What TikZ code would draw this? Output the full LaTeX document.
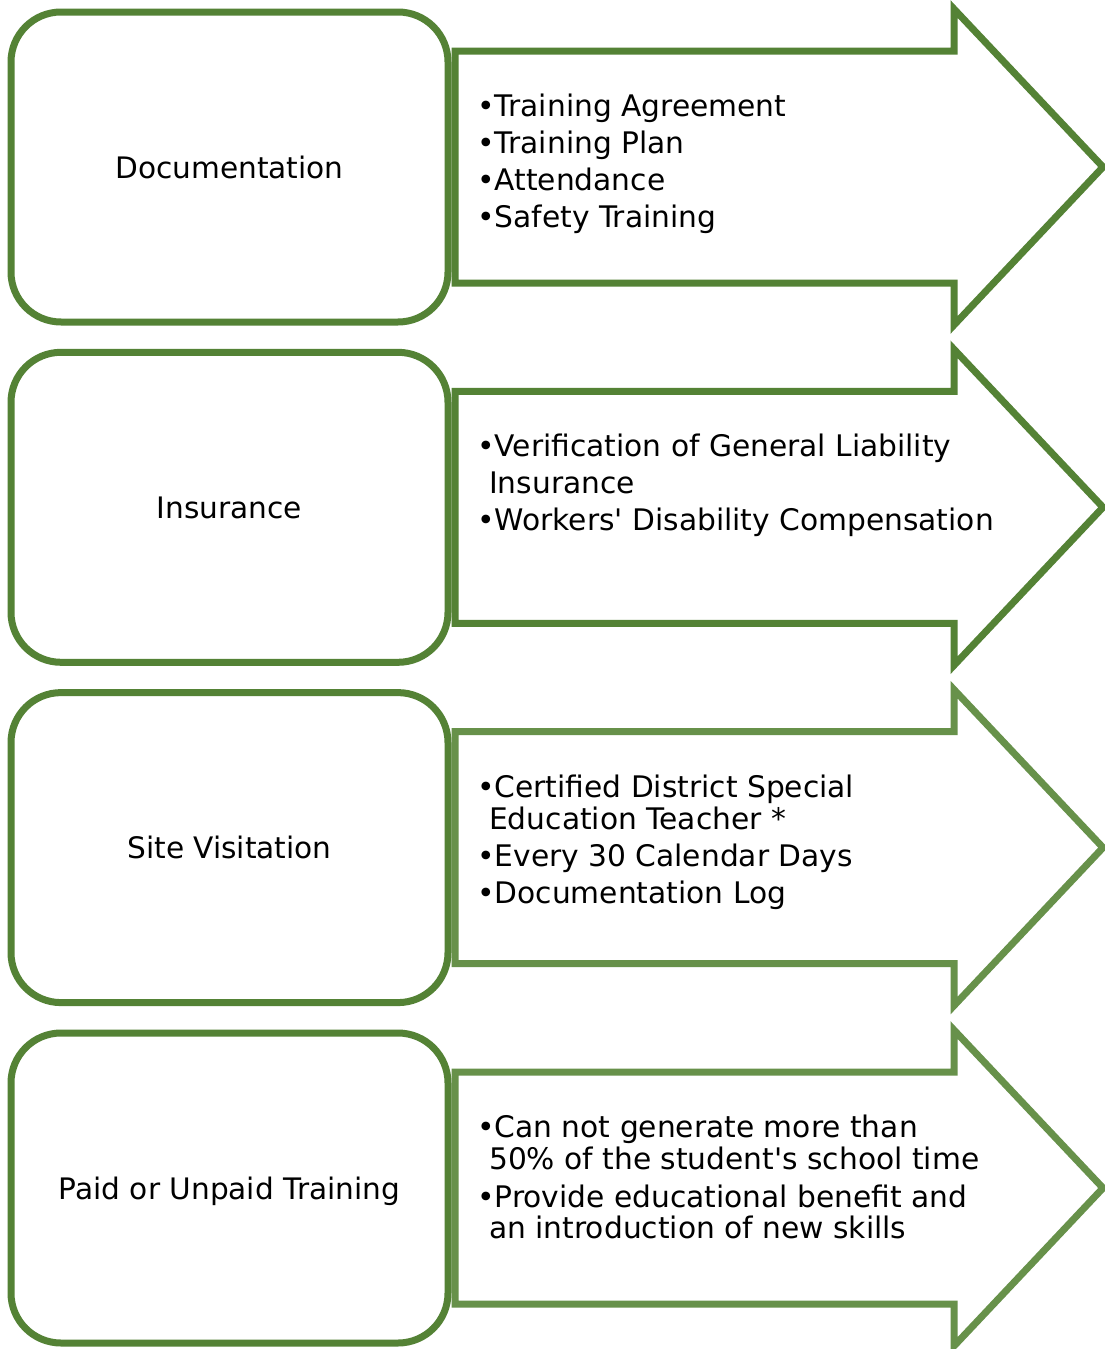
\documentclass[tikz,border=0pt]{standalone}
\usepackage{fontspec}
\setmainfont{DejaVu Sans}
\definecolor{boxgreen}{HTML}{548235}
\definecolor{arrowdark}{HTML}{548235}
\definecolor{arrowlight}{HTML}{67914A}
\begin{document}
\begin{tikzpicture}[x=1pt,y=-1pt,
  roundbox/.style={draw=boxgreen,line width=7pt,fill=white,rounded corners=50pt,
    minimum width=437pt,minimum height=310pt,inner sep=0pt},
  arrowshape/.style={line width=7pt,fill=white,line join=miter},
  lbl/.style={anchor=base,inner sep=0pt,font=\fontsize{29.6}{32}\selectfont},
  itemtxt/.style={anchor=base west,inner sep=0pt,font=\fontsize{29.7}{32}\selectfont}]
\useasboundingbox (0,0) rectangle (1104,1349);
\fill[white] (0,0) rectangle (1104,1349);
\foreach \i/\c/\col/\lab in {1/167/arrowdark/Documentation,
                             2/507.3/arrowdark/Insurance,
                             3/847.6/arrowlight/Site Visitation,
                             4/1188/arrowlight/Paid or Unpaid Training}{
  \draw[arrowshape,draw=\col] (455,{\c-116}) -- (954,{\c-116}) -- (954,{\c-158})
     -- (1103,\c) -- (954,{\c+158}) -- (954,{\c+116}) -- (455,{\c+116}) -- cycle;
  \node[roundbox] (box\i) at (229.5,\c) {};
  \node[lbl] (lab\i) at ([yshift=-11pt]box\i.center) {\lab};
}
% row 1
\node[itemtxt] (r1a) at (477,116) {•Training Agreement};
\node[itemtxt] (r1b) at (477,153) {•Training Plan};
\node[itemtxt] (r1c) at (477,190) {•Attendance};
\node[itemtxt] (r1d) at (477,227) {•Safety Training};
% row 2
\node[itemtxt] (r2a) at (477,456) {•Verification of General Liability};
\node[itemtxt] (r2b) at (489,493) {Insurance};
\node[itemtxt] (r2c) at (477,530) {•Workers\textquotesingle{} Disability Compensation};
% row 3
\node[itemtxt] (r3a) at (477,797) {•Certified District Special};
\node[itemtxt] (r3b) at (489,829) {Education Teacher *};
\node[itemtxt] (r3c) at (477,866) {•Every 30 Calendar Days};
\node[itemtxt] (r3d) at (477,903) {•Documentation Log};
% row 4
\node[itemtxt] (r4a) at (477,1137) {•Can not generate more than};
\node[itemtxt] (r4b) at (489,1169) {50\% of the student\textquotesingle s school time};
\node[itemtxt] (r4c) at (477,1207) {•Provide educational benefit and};
\node[itemtxt] (r4d) at (489,1238) {an introduction of new skills};
\end{tikzpicture}
\end{document}
